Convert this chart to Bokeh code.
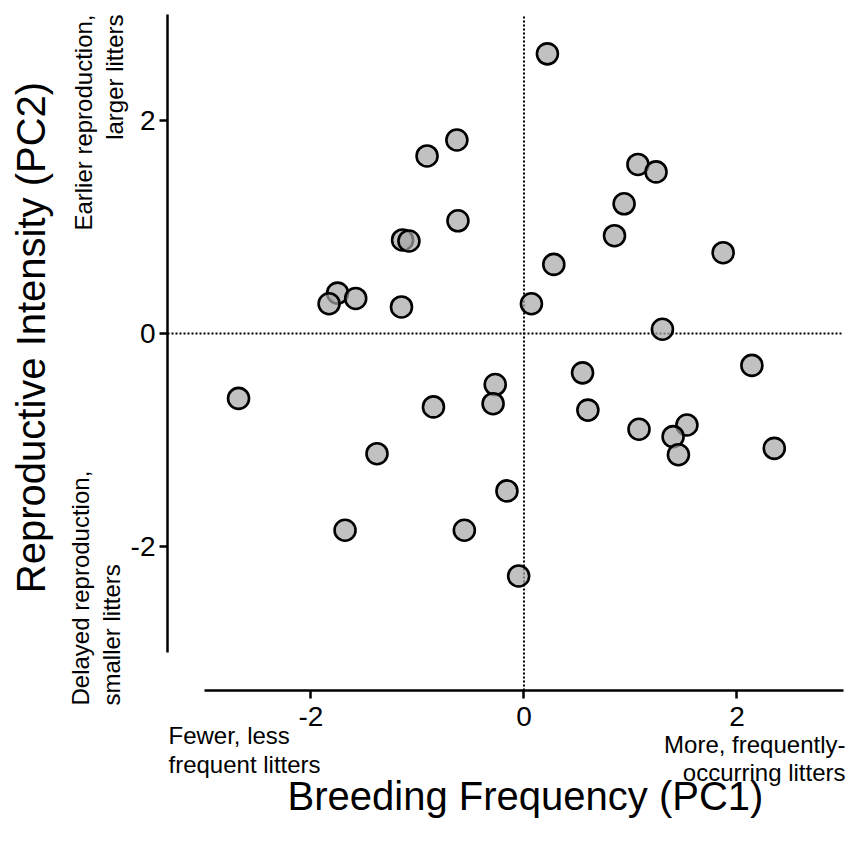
from bokeh.plotting import figure
from bokeh.models import Range1d, FixedTicker, Label
from bokeh.embed import file_html
from bokeh.resources import INLINE

# ---- data ----
pc1 = [-0.63, -0.91, -0.62, -1.14, -1.08, -1.75, -1.83, -1.58, -1.15,
       0.22, 1.07, 1.24, 0.94, 0.85, 1.87, 0.28, 0.07, 1.30,
       -2.68, -0.27, -0.29, -0.85, -1.38, -0.16, -1.68, -0.56, -0.05,
       0.55, 0.60, 1.08, 1.53, 1.40, 1.45, 2.14, 2.35]
pc2 = [1.82, 1.67, 1.06, 0.88, 0.87, 0.38, 0.28, 0.33, 0.25,
       2.63, 1.59, 1.52, 1.22, 0.92, 0.76, 0.65, 0.28, 0.04,
       -0.61, -0.48, -0.66, -0.69, -1.13, -1.48, -1.85, -1.85, -2.28,
       -0.37, -0.72, -0.90, -0.86, -0.97, -1.14, -0.30, -1.08]
tick_values = [-2, 0, 2]
tick_labels = ["-2", "0", "2"]
axis_bounds = (-3, 3)
x_title = "Breeding Frequency (PC1)"
y_title = "Reproductive Intensity (PC2)"
x_low_note = ["Fewer, less", "frequent litters"]
x_high_note = ["More, frequently-", "occurring litters"]
y_high_note = ["Earlier reproduction,", "larger litters"]
y_low_note = ["Delayed reproduction,", "smaller litters"]

# ---- layout (pixel geometry of the reference) ----
W, H = 858, 846
AX_L, AX_R, AX_T, AX_B = 167, 843, 14, 690     # y-axis x, right end, top, x-axis y
XA, XB = -3.347, 3.0                           # data x at AX_L, AX_R
YA, YB = 3.0, -3.357                           # data y at AX_T, AX_B
FONT = "Liberation Sans"

def dx(px):
    return XA + (px - AX_L) / (AX_R - AX_L) * (XB - XA)

def dy(py):
    return YA + (py - AX_T) / (AX_B - AX_T) * (YB - YA)

p = figure(width=W, height=H,
           x_range=Range1d(dx(0), dx(W)), y_range=Range1d(dy(H), dy(0)),
           output_backend="svg", toolbar_location=None,
           min_border_left=0, min_border_right=0,
           min_border_top=0, min_border_bottom=0)
p.outline_line_color = None
p.grid.visible = False
p.background_fill_color = "white"
p.border_fill_color = "white"

p.xaxis[0].fixed_location = dy(AX_B)
p.yaxis[0].fixed_location = dx(AX_L)
for ax in (p.xaxis[0], p.yaxis[0]):
    ax.bounds = axis_bounds
    ax.ticker = FixedTicker(ticks=tick_values, minor_ticks=[])
    ax.major_label_overrides = {v: s for v, s in zip(tick_values, tick_labels)}
    ax.axis_line_width = 2.5
    ax.major_tick_line_width = 2.5
    ax.major_tick_out = 8
    ax.major_tick_in = 0
    ax.minor_tick_line_color = None
    ax.major_label_text_font = FONT
    ax.major_label_text_font_size = "28px"
    ax.major_label_text_color = "black"
    ax.axis_line_color = "black"
    ax.major_tick_line_color = "black"
p.xaxis[0].major_label_standoff = 8
p.yaxis[0].major_label_standoff = 4

# dotted zero reference lines across the plotting area
p.segment(x0=[0, dx(AX_L)], y0=[dy(AX_B), 0], x1=[0, dx(AX_R)], y1=[dy(AX_T), 0],
          line_color="black", line_width=2, line_dash="2 2")

p.scatter(pc1, pc2, size=21, marker="circle", fill_color="#a6a6a6",
          fill_alpha=0.7, line_color="black", line_width=2.6)

def lab(text, px, py, size, align="left", angle=0):
    # px/py give the text baseline position in reference pixels
    if angle == 0:
        py -= 0.4 * size
    else:
        px -= 0.4 * size
    p.add_layout(Label(x=dx(px), y=dy(py), text=text, text_font=FONT,
                       text_font_size=f"{size}px", text_align=align,
                       text_baseline="alphabetic", angle=angle,
                       angle_units="deg", text_color="black"))

lab(x_title, 525, 811, 40, align="center")
lab(y_title, 46, 337, 40, align="center", angle=90)

lab(x_low_note[0], 168, 745, 24)
lab(x_low_note[1], 168, 774, 24)
lab(x_high_note[0], 845, 754, 24, align="right")
lab(x_high_note[1], 845, 782, 24, align="right")

lab(y_high_note[0], 93, 14, 24, align="right", angle=90)
lab(y_high_note[1], 124, 14, 24, align="right", angle=90)
lab(y_low_note[0], 90, 705, 24, align="left", angle=90)
lab(y_low_note[1], 121, 705, 24, align="left", angle=90)

open("out.html", "w").write(file_html(p, INLINE))
